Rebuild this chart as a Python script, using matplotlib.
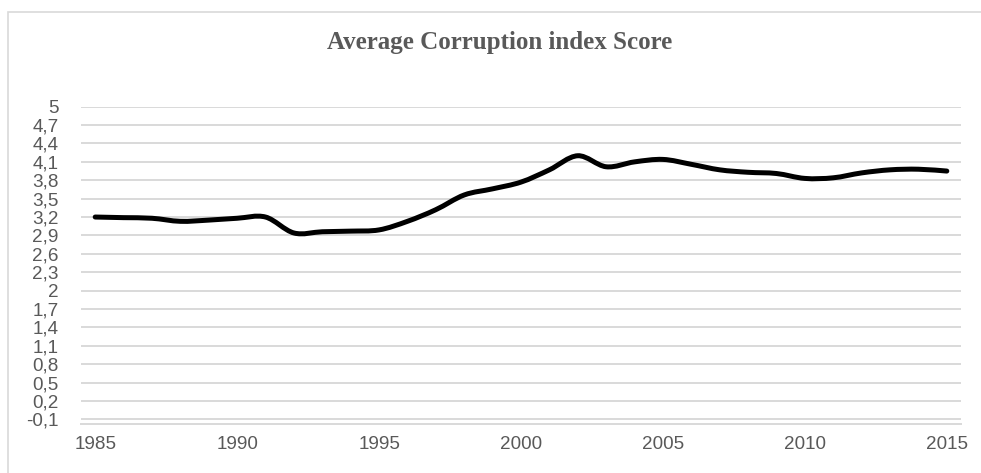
#!/usr/bin/env python3
"""Average Corruption index Score, 1985-2015 (Excel-style smoothed line)."""

import matplotlib
matplotlib.use('Agg')
import matplotlib.pyplot as plt
import matplotlib.patches as mpatches
from matplotlib.path import Path

# data
years = list(range(1985, 2016))
scores = [3.20, 3.19, 3.18, 3.13, 3.15, 3.18, 3.20, 2.94, 2.96, 2.97,
          2.99, 3.13, 3.32, 3.56, 3.66, 3.77, 3.97, 4.20, 4.02, 4.10,
          4.14, 4.06, 3.97, 3.93, 3.91, 3.83, 3.84, 3.92, 3.97, 3.98,
          3.95]
y_ticks = [-0.1, 0.2, 0.5, 0.8, 1.1, 1.4, 1.7, 2.0, 2.3, 2.6, 2.9, 3.2,
           3.5, 3.8, 4.1, 4.4, 4.7, 5.0]
x_ticks = [1985, 1990, 1995, 2000, 2005, 2010, 2015]
title = 'Average Corruption index Score'

TEXT = '#595959'
GRID = '#d9d9d9'
W, H = 981, 473


def smooth_path(xs, ys):
    """Bezier path through the points, like Excel's 'smoothed line'."""
    pts = list(zip(xs, ys))
    verts = [pts[0]]
    codes = [Path.MOVETO]
    n = len(pts)
    for i in range(n - 1):
        p0 = pts[i - 1] if i > 0 else pts[i]
        p1 = pts[i]
        p2 = pts[i + 1]
        p3 = pts[i + 2] if i + 2 < n else pts[i + 1]
        c1 = (p1[0] + (p2[0] - p0[0]) / 6, p1[1] + (p2[1] - p0[1]) / 6)
        c2 = (p2[0] - (p3[0] - p1[0]) / 6, p2[1] - (p3[1] - p1[1]) / 6)
        verts += [c1, c2, p2]
        codes += [Path.CURVE4] * 3
    return Path(verts, codes)


fig = plt.figure(figsize=(W / 100, H / 100), dpi=100)

# plot area in pixels: x 81..961, y 106.7..423.6 (from top)
ax = fig.add_axes([81 / W, 1 - 423.6 / H, 880 / W, (423.6 - 106.7) / H])
ax.set_xlim(1984.5, 2015.5)
ax.set_ylim(-0.17, 5.0)

ax.set_yticks(y_ticks)
ax.set_yticklabels([f'{v:g}'.replace('.', ',') for v in y_ticks])
ax.set_xticks(x_ticks)
ax.set_xticklabels([str(v) for v in x_ticks])
ax.tick_params(length=0, labelsize=13.6, labelcolor=TEXT)
ax.tick_params(axis='y', pad=16)
ax.tick_params(axis='x', pad=9)
for lab in ax.get_xticklabels() + ax.get_yticklabels():
    lab.set_fontfamily('Liberation Sans')

for v in y_ticks:
    ax.axhline(v, color=GRID, lw=1.4, zorder=1)
for side in ('top', 'left', 'right'):
    ax.spines[side].set_visible(False)
ax.spines['bottom'].set_color(GRID)
ax.spines['bottom'].set_linewidth(1.4)

line = mpatches.PathPatch(smooth_path(years, scores), fill=False,
                          edgecolor='black', lw=3.6, capstyle='round',
                          joinstyle='round', zorder=3)
ax.add_patch(line)

fig.text(500 / W, 1 - 43 / H, title, ha='center', va='center',
         fontsize=18, fontweight='bold', color=TEXT,
         family='Liberation Serif')

# chart frame (only the top and left edges fall inside the picture)
frame = mpatches.Rectangle((8 / W, -0.1), 1.2, 1.1 - 12 / H,
                           transform=fig.transFigure, fill=False,
                           edgecolor=GRID, lw=1.2)
fig.patches.append(frame)

fig.savefig('out.png', dpi=100)
